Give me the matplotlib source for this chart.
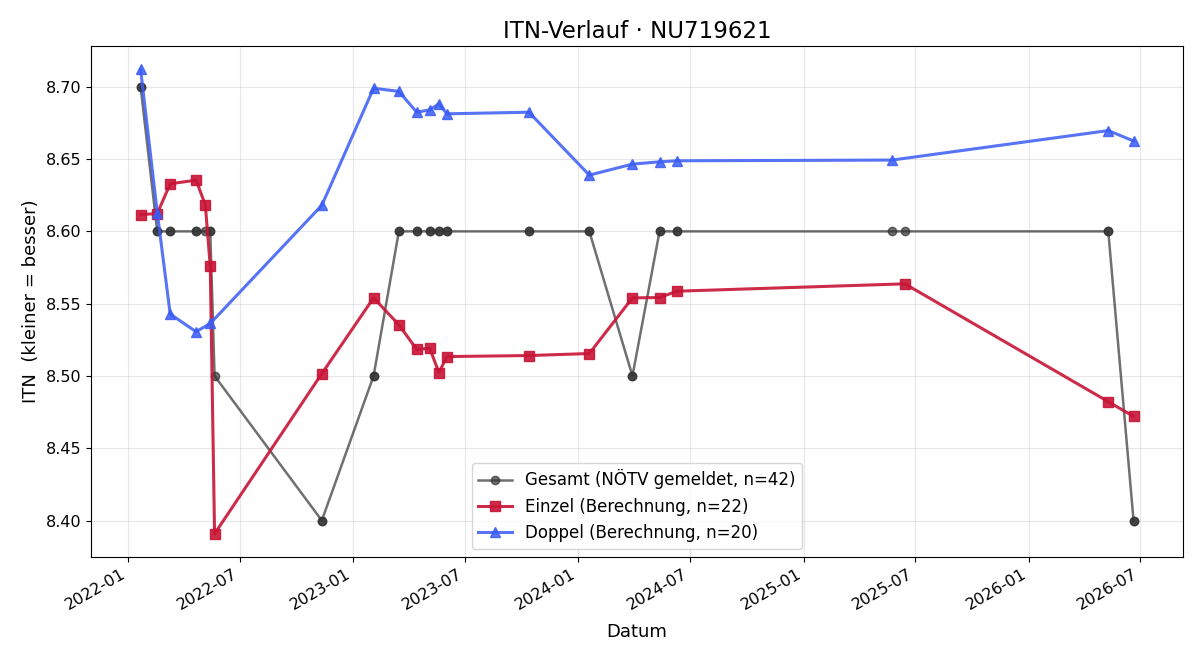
import matplotlib
matplotlib.use("Agg")
import matplotlib.pyplot as plt
import matplotlib.dates as mdates
import pandas as pd

# Einzel (singles) ITN computation
einzel_dates = ["2022-01-21", "2022-02-17", "2022-03-10", "2022-04-21", "2022-05-06",
                "2022-05-14", "2022-05-21", "2022-11-11", "2023-02-03", "2023-03-16",
                "2023-04-14", "2023-05-05", "2023-05-20", "2023-06-02", "2023-10-13",
                "2024-01-19", "2024-03-29", "2024-05-12", "2024-06-09", "2025-06-14",
                "2026-05-10", "2026-06-20"]
einzel_vals = [8.6116, 8.6123, 8.6329, 8.6354, 8.6183,
               8.5759, 8.3908, 8.5016, 8.5540, 8.5354,
               8.5183, 8.5192, 8.5023, 8.5134, 8.5141,
               8.5155, 8.5540, 8.5542, 8.5586, 8.5637,
               8.4822, 8.4720]

# Doppel (doubles) ITN computation
doppel_dates = ["2022-01-21", "2022-02-17", "2022-03-10", "2022-04-21", "2022-05-14",
                "2022-11-11", "2023-02-03", "2023-03-16", "2023-04-14", "2023-05-05",
                "2023-05-20", "2023-06-02", "2023-10-13", "2024-01-19", "2024-03-29",
                "2024-05-12", "2024-06-09", "2025-05-24", "2026-05-10", "2026-06-20"]
doppel_vals = [8.712, 8.613, 8.5428, 8.5306, 8.5363,
               8.618, 8.699, 8.6968, 8.6824, 8.684,
               8.6882, 8.6813, 8.6824, 8.6389, 8.6465,
               8.6481, 8.6488, 8.6493, 8.6697, 8.6625]

# Gesamt (reported by NÖTV) per date
gesamt_by_date = {
    "2022-01-21": 8.70, "2022-02-17": 8.60, "2022-03-10": 8.60, "2022-04-21": 8.60,
    "2022-05-06": 8.60, "2022-05-14": 8.60, "2022-05-21": 8.50, "2022-11-11": 8.40,
    "2023-02-03": 8.50, "2023-03-16": 8.60, "2023-04-14": 8.60, "2023-05-05": 8.60,
    "2023-05-20": 8.60, "2023-06-02": 8.60, "2023-10-13": 8.60, "2024-01-19": 8.60,
    "2024-03-29": 8.50, "2024-05-12": 8.60, "2024-06-09": 8.60, "2025-05-24": 8.60,
    "2025-06-14": 8.60, "2026-05-10": 8.60, "2026-06-20": 8.40,
}
gesamt_dates = sorted(einzel_dates + doppel_dates)
gesamt_vals = [gesamt_by_date[d] for d in gesamt_dates]

fig, ax = plt.subplots(figsize=(12, 6.6), dpi=100)
fig.subplots_adjust(left=0.0758, right=0.986, top=0.930, bottom=0.156)

ax.plot(pd.to_datetime(gesamt_dates), gesamt_vals, marker="o", color="#333333",
        alpha=0.7, linewidth=1.8, markersize=6,
        label=f"Gesamt (NÖTV gemeldet, n={len(gesamt_dates)})")
ax.plot(pd.to_datetime(einzel_dates), einzel_vals, marker="s", color="#C81436",
        alpha=0.9, linewidth=2.2, markersize=7,
        label=f"Einzel (Berechnung, n={len(einzel_dates)})")
ax.plot(pd.to_datetime(doppel_dates), doppel_vals, marker="^", color="#3A5CF5",
        alpha=0.85, linewidth=2.2, markersize=7,
        label=f"Doppel (Berechnung, n={len(doppel_dates)})")

ax.set_title("ITN-Verlauf · NU719621", fontsize=16.5)
ax.set_xlabel("Datum", fontsize=13, labelpad=7)
ax.set_ylabel("ITN  (kleiner = besser)", fontsize=13)
ax.grid(True, alpha=0.3)
ax.xaxis.set_major_locator(mdates.MonthLocator(bymonth=[1, 7]))
ax.xaxis.set_major_formatter(mdates.DateFormatter("%Y-%m"))
ax.tick_params(labelsize=11.5)
ax.legend(loc="lower center", fontsize=12)
for lbl in ax.get_xticklabels():
    lbl.set_rotation(30)
    lbl.set_ha("right")
fig.savefig("out.png")
